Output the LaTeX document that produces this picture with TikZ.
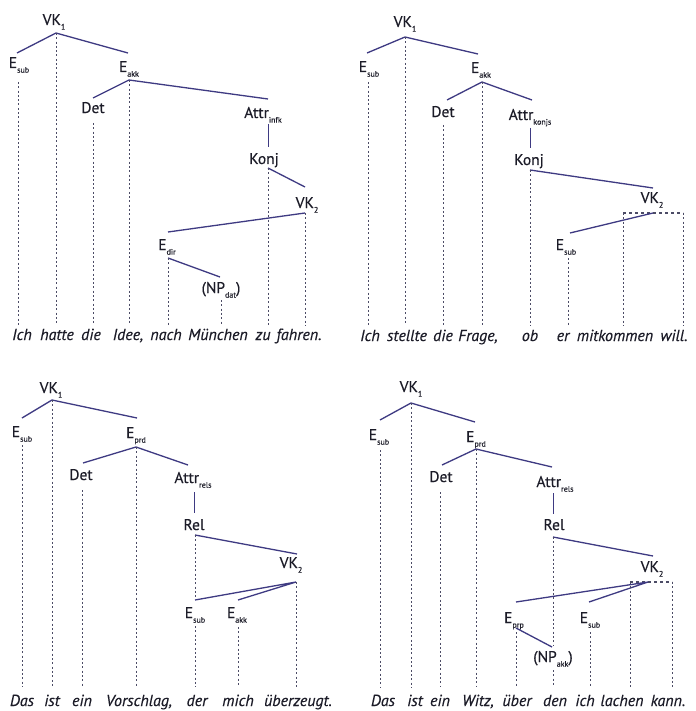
\documentclass[tikz,border=0pt]{standalone}
\usepackage{fontspec}
\setmainfont{PT Sans}
\newfontfamily\labfont[FakeBold=0.4]{PT Sans}
\newfontfamily\wordfont[FakeBold=0.3]{PT Sans Italic}
\definecolor{treecol}{HTML}{3E3A82}
\definecolor{guidecol}{HTML}{4C4C66}
\definecolor{labcol}{HTML}{1C1C28}
\newcommand{\sbs}[1]{\raisebox{-0.6ex}{\fontsize{8}{8}\selectfont #1}}
\tikzset{
  tree/.style={draw=treecol, line width=1.3pt},
  vtree/.style={draw=treecol, line width=0.9pt},
  guide/.style={draw=guidecol, line width=0.8pt, dash pattern=on 2pt off 2.3pt},
  dashh/.style={draw=guidecol, line width=1.1pt, dash pattern=on 3pt off 3pt},
  lab/.style={font=\labfont\fontsize{15.5}{15.5}\selectfont, text=labcol, inner sep=0pt, anchor=base},
  word/.style={font=\wordfont\fontsize{16}{16}\selectfont, text=labcol, inner sep=0pt, anchor=base}
}
\begin{document}
\begin{tikzpicture}[x=1pt,y=-1pt]
\fill[white] (0,0) rectangle (695,711);
\useasboundingbox (0,0) rectangle (695,711);

% ================= Panel 1 =================
\node[lab] (aVK) at (54,25) {VK\sbs{1}};
\node[lab] (aEsub) at (19,68) {E\sbs{sub}};
\node[lab] (aEakk) at (129,72) {E\sbs{akk}};
\node[lab] (aDet) at (93,113) {Det};
\node[lab] (aAttr) at (263,118) {Attr\sbs{infk}};
\node[lab] (aKonj) at (264,164) {Konj};
\node[lab] (aVKz) at (307,208) {VK\sbs{2}};
\node[lab] (aEdir) at (167,250) {E\sbs{dir}};
\node[lab] (aNP) at (221,293) {(NP\sbs{dat})};
\coordinate (avk) at (56,33);
\coordinate (aesubt) at (17,53);
\coordinate (aeakkt) at (128,53);
\coordinate (aeakkb) at (129,80);
\coordinate (adett) at (93,98);
\coordinate (aattrt) at (268,99);
\coordinate (aattrb) at (268,124);
\coordinate (akonjt) at (268,147);
\coordinate (akonjb) at (268,168);
\coordinate (avkzt) at (305,187);
\coordinate (avkzb) at (305,213);
\coordinate (aedirt) at (168,232);
\coordinate (aedirb) at (168,258);
\coordinate (anpt) at (220,277);
\draw[tree] (aesubt) -- (avk) -- (aeakkt);
\draw[tree] (adett) -- (aeakkb) -- (aattrt);
\draw[vtree] (aattrb) -- (akonjt);
\draw[tree] (akonjb) -- (avkzt);
\draw[tree] (avkzb) -- (aedirt);
\draw[tree] (aedirb) -- (anpt);
\foreach \x/\y in {18/82, 56/33, 93/123, 129/80, 168/258, 221/300, 268/168, 305/213}
  \draw[guide] (\x,\y) -- (\x,325);
\foreach \x/\w in {22/Ich, 57/hatte, 91/die, 128/{Idee,}, 166/nach, 218/München, 263/zu, 299/fahren.}
  \node[word] at (\x,340) {\w};

% ================= Panel 2 =================
\node[lab] (bVK) at (405,27) {VK\sbs{1}};
\node[lab] (bEsub) at (369,72) {E\sbs{sub}};
\node[lab] (bEakk) at (481,73) {E\sbs{akk}};
\node[lab] (bDet) at (443,117) {Det};
\node[lab] (bAttr) at (530,120) {Attr\sbs{konjs}};
\node[lab] (bKonj) at (529,165) {Konj};
\node[lab] (bVKz) at (652,203) {VK\sbs{2}};
\node[lab] (bEsubz) at (566,250) {E\sbs{sub}};
\coordinate (bvk) at (405,37);
\coordinate (besubt) at (367,53);
\coordinate (beakkt) at (478,54);
\coordinate (beakkb) at (482,82);
\coordinate (bdett) at (447,100);
\coordinate (battrt) at (532,100);
\coordinate (battrb) at (530,128);
\coordinate (bkonjt) at (530,148);
\coordinate (bkonjb) at (530,170);
\coordinate (bvkzt) at (653,188);
\coordinate (bvkzb) at (653,213);
\coordinate (bdl) at (623,213);
\coordinate (bdr) at (683,213);
\coordinate (besubzt) at (570,233);
\draw[tree] (besubt) -- (bvk) -- (beakkt);
\draw[tree] (bdett) -- (beakkb) -- (battrt);
\draw[vtree] (battrb) -- (bkonjt);
\draw[tree] (bkonjb) -- (bvkzt);
\draw[dashh] (bdl) -- (bdr);
\draw[tree] (bvkzb) -- (besubzt);
\foreach \x/\y in {368/82, 405/37, 443/125, 482/82, 530/170, 568/258, 623/213, 683/213}
  \draw[guide] (\x,\y) -- (\x,325);
\foreach \x/\w in {370/Ich, 407/stellte, 443/die, 478/{Frage,}, 530/ob, 563/er, 615/mitkommen, 674/will.}
  \node[word] at (\x,341) {\w};

% ================= Panel 3 =================
\node[lab] (cVK) at (51,393) {VK\sbs{1}};
\node[lab] (cEsub) at (22,437) {E\sbs{sub}};
\node[lab] (cEprd) at (136,438) {E\sbs{prd}};
\node[lab] (cDet) at (81,480) {Det};
\node[lab] (cAttr) at (193,483) {Attr\sbs{rels}};
\node[lab] (cRel) at (194,530) {Rel};
\node[lab] (cVKz) at (291,568) {VK\sbs{2}};
\node[lab] (cEsubz) at (195,618) {E\sbs{sub}};
\node[lab] (cEakk) at (237,618) {E\sbs{akk}};
\coordinate (cvk) at (52,400);
\coordinate (cesubt) at (22,418);
\coordinate (ceprdt) at (137,418);
\coordinate (ceprdb) at (136,447);
\coordinate (cdett) at (83,463);
\coordinate (cattrt) at (188,465);
\coordinate (cattrb) at (194,492);
\coordinate (crelt) at (194,513);
\coordinate (crelb) at (195,535);
\coordinate (cvkzt) at (297,554);
\coordinate (cvkzb) at (296,582);
\coordinate (cesubzt) at (195,600);
\coordinate (ceakkt) at (238,600);
\draw[tree] (cesubt) -- (cvk) -- (ceprdt);
\draw[tree] (cdett) -- (ceprdb) -- (cattrt);
\draw[vtree] (cattrb) -- (crelt);
\draw[tree] (crelb) -- (cvkzt);
\draw[tree] (cesubzt) -- (cvkzb) -- (ceakkt);
\foreach \x/\y in {22/445, 52/400, 82/490, 136/447, 195/626, 238/627, 296/582}
  \draw[guide] (\x,\y) -- (\x,687);
\draw[guide] (195,535) -- (195,598);
\foreach \x/\w in {22/Das, 52/ist, 82/ein, 139/{Vorschlag,}, 197/der, 238/mich, 298/überzeugt.}
  \node[word] at (\x,706) {\w};

% ================= Panel 4 =================
\node[lab] (dVK) at (411,392) {VK\sbs{1}};
\node[lab] (dEsub) at (379,440) {E\sbs{sub}};
\node[lab] (dEprd) at (476,442) {E\sbs{prd}};
\node[lab] (dDet) at (441,482) {Det};
\node[lab] (dAttr) at (555,487) {Attr\sbs{rels}};
\node[lab] (dRel) at (554,530) {Rel};
\node[lab] (dVKz) at (652,572) {VK\sbs{2}};
\node[lab] (dEprp) at (514,623) {E\sbs{prp}};
\node[lab] (dEsubz) at (590,623) {E\sbs{sub}};
\node[lab] (dNP) at (553,662) {(NP\sbs{akk})};
\coordinate (dvk) at (411,403);
\coordinate (desubt) at (380,420);
\coordinate (deprdt) at (475,422);
\coordinate (deprdb) at (476,449);
\coordinate (ddett) at (442,465);
\coordinate (dattrt) at (552,467);
\coordinate (dattrb) at (553,493);
\coordinate (drelt) at (553,514);
\coordinate (drelb) at (553,537);
\coordinate (dvkzt) at (653,556);
\coordinate (dvkzb) at (648,582);
\coordinate (ddl) at (630,582);
\coordinate (ddr) at (672,582);
\coordinate (deprpt) at (516,602);
\coordinate (desubzt) at (589,602);
\coordinate (deprpb) at (516,628);
\coordinate (dnpt) at (552,647);
\draw[tree] (desubt) -- (dvk) -- (deprdt);
\draw[tree] (ddett) -- (deprdb) -- (dattrt);
\draw[vtree] (dattrb) -- (drelt);
\draw[tree] (drelb) -- (dvkzt);
\draw[dashh] (ddl) -- (ddr);
\draw[tree] (deprpt) -- (dvkzb) -- (desubzt);
\draw[tree] (deprpb) -- (dnpt);
\foreach \x/\y in {380/450, 411/403, 440/492, 476/449, 516/632, 553/670, 590/632, 630/582, 672/582}
  \draw[guide] (\x,\y) -- (\x,687);
\draw[guide] (553,537) -- (553,645);
\foreach \x/\w in {383/Das, 415/ist, 440/ein, 478/{Witz,}, 517/über, 555/den, 585/ich, 622/lachen, 668/kann.}
  \node[word] at (\x,706) {\w};
\end{tikzpicture}
\end{document}
